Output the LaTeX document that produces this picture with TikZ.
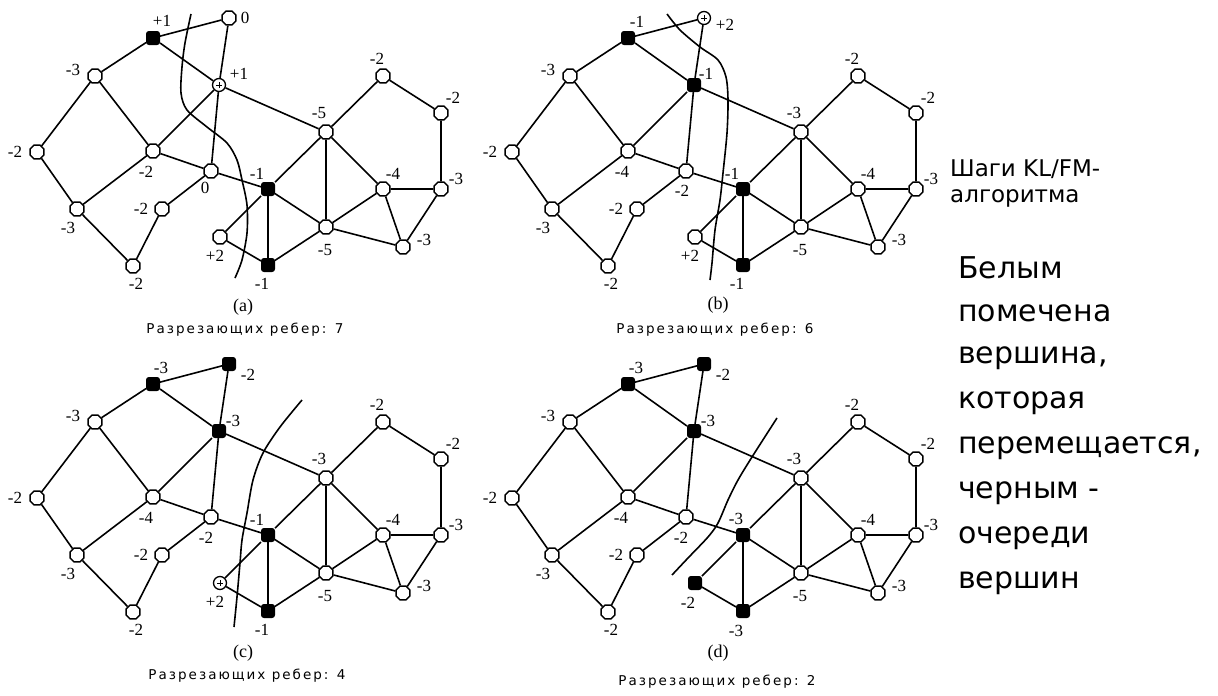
\documentclass[tikz,border=0pt]{standalone}
\usepackage{fontspec}
\setmainfont{Liberation Serif}
\newfontfamily\capfont[LetterSpace=15]{DejaVu Sans}
\newfontfamily\notefont{DejaVu Sans}
\usetikzlibrary{calc,shapes.geometric}

\tikzset{
  edge/.style={line width=1.6pt},
  wv/.style={draw, fill=white, line width=1.4pt, regular polygon, regular polygon sides=8,
             minimum size=15pt, inner sep=0pt},
  bv/.style={draw, fill=black, line width=1pt, rectangle, rounded corners=2.5pt,
             minimum size=13pt, inner sep=0pt},
  mv/.style={draw, fill=white, line width=1.3pt, circle, minimum size=13pt, inner sep=0pt,
             path picture={\draw[line width=0.8pt]
               ($(path picture bounding box.center)+(-3pt,0pt)$) -- ++(6pt,0pt)
               ($(path picture bounding box.center)+(0pt,-3pt)$) -- ++(0pt,6pt);}},
  lbl/.style={inner sep=0pt, font=\fontsize{17}{17}\selectfont},
  cut/.style={line width=1.6pt},
  tag/.style={inner sep=0pt, font=\fontsize{18}{18}\selectfont},
  capt/.style={inner sep=0pt, font=\capfont\fontsize{13.5}{13.5}\selectfont},
  note/.style={inner sep=0pt, anchor=west, font=\notefont\fontsize{30}{30}\selectfont},
  smallnote/.style={inner sep=0pt, anchor=west, font=\notefont\fontsize{23}{23}\selectfont},
}

% vertex with its gain label: name, style, position, label offset, label text
\newcommand\gv[5]{%
  \node[#2] (#1) at (#3) {};
  \node[lbl] (#1l) at ($(#1.center)+(#4)$) {#5};}

% the edges of the graph, shared by all four steps
\newcommand\gedges[1]{%
  \draw[edge]
    (#1A) -- (#1T)  (#1A) -- (#1L)  (#1A) -- (#1P)
    (#1T) -- (#1P)  (#1P) -- (#1N)  (#1P) -- (#1C)  (#1P) -- (#1F)
    (#1L) -- (#1FL) (#1L) -- (#1C)  (#1FL) -- (#1B) (#1C) -- (#1B)
    (#1C) -- (#1N)  (#1N) -- (#1S)  (#1S) -- (#1Bt) (#1B) -- (#1Bt)
    (#1N) -- (#1K)  (#1K) -- (#1F)  (#1K) -- (#1Q)  (#1K) -- (#1M)
    (#1K) -- (#1Kb) (#1Q) -- (#1Kb) (#1Kb) -- (#1M) (#1F) -- (#1M)
    (#1F) -- (#1T2) (#1F) -- (#1R4) (#1T2) -- (#1R2) (#1R2) -- (#1R3)
    (#1R4) -- (#1R3) (#1R4) -- (#1M) (#1R4) -- (#1Lr) (#1R3) -- (#1Lr)
    (#1M) -- (#1Lr);}

% vertices whose look and gain do not change between steps
\newcommand\fixedpart[1]{%
  \gv{#1L}{wv}{95,76}{-22,-6}{-3}
  \gv{#1FL}{wv}{37,152}{-22,0}{-2}
  \gv{#1S}{wv}{162,209}{-21,0}{-2}
  \gv{#1B}{wv}{77,209}{-9,19}{-3}
  \gv{#1Bt}{wv}{133,266}{3,18}{-2}
  \gv{#1T2}{wv}{383,76}{-6,-17}{-2}
  \gv{#1R2}{wv}{441,113}{12,-15}{-2}
  \gv{#1R4}{wv}{383,189}{10,-15}{-4}
  \gv{#1R3}{wv}{441,189}{15,-10}{-3}
  \gv{#1M}{wv}{326,227}{-1,23}{-5}
  \gv{#1Lr}{wv}{403,247}{21,-7}{-3}}

\begin{document}
\begin{tikzpicture}[x=1pt,y=-1pt]
\fill[white] (0,0) rectangle (1218,696);
\useasboundingbox (0,0) rectangle (1218,696);

% ---------- step (a) ----------
\begin{scope}
  \fixedpart{a}
  \gv{aA}{bv}{153,38}{9,-17}{+1}
  \gv{aT}{wv}{229,18}{16,0}{0}
  \gv{aP}{mv}{219,85}{20,-11}{+1}
  \gv{aC}{wv}{153,151}{-7,21}{-2}
  \gv{aN}{wv}{211,171}{-6,17}{0}
  \gv{aK}{bv}{268,189}{-11,-15}{-1}
  \gv{aF}{wv}{326,132}{-7,-19}{-5}
  \gv{aQ}{wv}{220,237}{-5,19}{+2}
  \gv{aKb}{bv}{268,265}{-6,19}{-1}
  \gedges{a}
  \draw[cut] plot[smooth] coordinates {(191,14) (185,43) (182,67) (181,93) (187,110)
    (207,127) (227,143) (237,160) (242,180) (247,205) (247,233) (242,260) (235,278)};
  \node[tag] (atag) at (243,307) {(a)};
  \node[capt] (acap) at (245,330) {Разрезающих ребер: 7};
\end{scope}

% ---------- step (b) ----------
\begin{scope}[shift={(475,0)}]
  \fixedpart{b}
  \gv{bA}{bv}{153,38}{9,-16}{-1}
  \gv{bT}{mv}{229,18}{21,7}{+2}
  \gv{bP}{bv}{219,85}{12,-11}{-1}
  \gv{bC}{wv}{153,151}{-6,21}{-4}
  \gv{bN}{wv}{211,171}{-4,20}{-2}
  \gv{bK}{bv}{268,189}{-11,-15}{-1}
  \gv{bF}{wv}{326,132}{-7,-19}{-3}
  \gv{bQ}{wv}{220,237}{-5,19}{+2}
  \gv{bKb}{bv}{268,265}{-6,19}{-1}
  \gedges{b}
  \draw[cut] plot[smooth] coordinates {(192,14) (205,30) (225,47) (243,60) (251,77)
    (253,100) (252,133) (248,173) (245,200) (240,230) (237,263) (235,280)};
  \node[tag] (btag) at (243,305) {(b)};
  \node[capt] (bcap) at (240,330) {Разрезающих ребер: 6};
\end{scope}

% ---------- step (c) ----------
\begin{scope}[shift={(0,346)}]
  \fixedpart{c}
  \gv{cA}{bv}{153,38}{8,-16}{-3}
  \gv{cT}{bv}{229,18}{19,11}{-2}
  \gv{cP}{bv}{219,85}{14,-10}{-3}
  \gv{cC}{wv}{153,151}{-7,21}{-4}
  \gv{cN}{wv}{211,171}{-5,21}{-2}
  \gv{cK}{bv}{268,189}{-11,-15}{-1}
  \gv{cF}{wv}{326,132}{-7,-19}{-3}
  \gv{cQ}{mv}{220,237}{-5,19}{+2}
  \gv{cKb}{bv}{268,265}{-6,19}{-1}
  \gedges{c}
  \draw[cut] plot[smooth] coordinates {(302,54) (280,81) (263,107) (253,134) (247,167)
    (242,194) (240,217) (237,251) (234,281)};
  \node[tag] (ctag) at (243,307) {(c)};
  \node[capt] (ccap) at (247,330) {Разрезающих ребер: 4};
\end{scope}

% ---------- step (d) ----------
\begin{scope}[shift={(475,346)}]
  \fixedpart{d}
  \gv{dA}{bv}{153,38}{8,-16}{-3}
  \gv{dT}{bv}{229,18}{19,11}{-2}
  \gv{dP}{bv}{219,85}{14,-10}{-3}
  \gv{dC}{wv}{153,151}{-7,21}{-4}
  \gv{dN}{wv}{211,171}{-5,21}{-2}
  \gv{dK}{bv}{268,189}{-7,-16}{-3}
  \gv{dF}{wv}{326,132}{-7,-19}{-3}
  \gv{dQ}{bv}{220,237}{-7,20}{-2}
  \gv{dKb}{bv}{268,265}{-7,20}{-3}
  \gedges{d}
  \draw[cut] plot[smooth] coordinates {(302,72) (277,111) (263,134) (253,154) (243,177)
    (233,191) (213,212) (197,229)};
  \node[tag] (dtag) at (243,307) {(d)};
  \node[capt] (dcap) at (242,336) {Разрезающих ребер: 2};
\end{scope}

% ---------- side notes ----------
\node[smallnote] (n1) at (950,169) {Шаги KL/FM-};
\node[smallnote] (n2) at (950,198) {алгоритма};
\node[note] (n3) at (958,268) {Белым};
\node[note] (n4) at (958,313) {помечена};
\node[note] (n5) at (958,358) {вершина,};
\node[note] (n6) at (958,403) {которая};
\node[note] (n7) at (958,448) {перемещается,};
\node[note] (n8) at (958,493) {черным -};
\node[note] (n9) at (958,538) {очереди};
\node[note] (n10) at (958,583) {вершин};
\end{tikzpicture}
\end{document}
